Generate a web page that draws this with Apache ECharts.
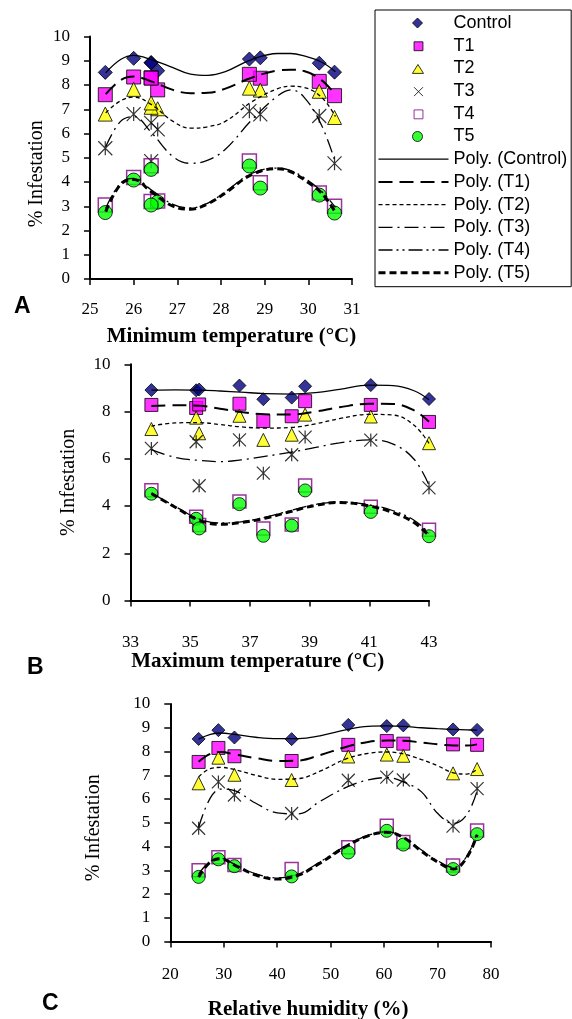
<!DOCTYPE html>
<html>
<head>
<meta charset="utf-8">
<title>% Infestation vs weather</title>
<script src="https://cdn.jsdelivr.net/npm/echarts@6.0.0/dist/echarts.min.js"></script>
<style>
  html, body { margin: 0; padding: 0; background: #fff; }
  #chart { width: 572px; height: 1019px; }
</style>
</head>
<body>
<div id="chart"></div>
<script>
// nine sampling dates: weather at each date
const minTemp = [30.6, 30.25, 26.55, 25.35, 28.9, 28.65, 26.0, 26.4, 26.4];
const maxTemp = [43.0, 35.2, 38.4, 37.45, 41.05, 38.85, 36.65, 35.3, 33.7];
const humidity = [25.3, 29.0, 32.0, 42.7, 53.3, 60.5, 63.6, 72.9, 77.4];

// % infestation per treatment at each date
const control = [8.53, 8.9, 8.59, 8.52, 9.12, 9.07, 9.1, 8.93, 8.91];
const t1 = [7.56, 8.15, 7.8, 7.6, 8.28, 8.44, 8.33, 8.3, 8.28];
const t2 = [6.66, 7.74, 7.02, 6.8, 7.79, 7.87, 7.82, 7.08, 7.26];
const t3 = [4.77, 6.72, 6.17, 5.39, 6.79, 6.92, 6.8, 4.86, 6.44];
const t4 = [3.0, 3.55, 3.22, 3.05, 3.97, 4.87, 4.19, 3.2, 4.67];
const t5 = [2.72, 3.46, 3.17, 2.74, 3.75, 4.66, 4.08, 3.05, 4.52];

// polynomial trend curves (panel A)
const polyXA = [25.36, 25.7, 26.0, 26.4, 26.9, 27.3, 27.7, 28.1, 28.7, 29.3, 29.6, 29.9, 30.3, 30.62];
const polyControlA = [8.5, 9.05, 9.22, 9.05, 8.72, 8.45, 8.4, 8.55, 9.05, 9.3, 9.3, 9.2, 8.95, 8.55];
const polyT1A = [7.62, 8.2, 8.35, 8.15, 7.8, 7.66, 7.68, 7.85, 8.3, 8.6, 8.63, 8.58, 8.2, 7.6];
const polyT2A = [6.85, 7.35, 7.5, 7.2, 6.5, 6.22, 6.28, 6.5, 7.3, 7.85, 7.95, 7.9, 7.5, 6.7];
const polyT3A = [5.45, 6.5, 6.7, 6.05, 5.05, 4.77, 4.9, 5.35, 6.55, 7.55, 7.8, 7.5, 6.35, 4.8];
const polyT4A = [2.92, 3.95, 4.15, 3.68, 3.08, 2.93, 3.13, 3.6, 4.35, 4.57, 4.47, 4.18, 3.62, 2.95];
const polyT5A = [2.78, 3.9, 4.1, 3.6, 3.0, 2.88, 3.1, 3.55, 4.3, 4.55, 4.42, 4.1, 3.55, 2.75];

// panel B
const polyXB = [33.7, 34.5, 35.3, 36.0, 36.7, 37.5, 38.4, 39.2, 40.0, 41.0, 41.8, 42.5, 43.0];
const polyControlB = [8.91, 8.92, 8.91, 8.87, 8.82, 8.76, 8.74, 8.8, 8.94, 9.12, 9.1, 8.88, 8.5];
const polyT1B = [8.23, 8.27, 8.25, 8.12, 7.98, 7.88, 7.87, 8.0, 8.18, 8.33, 8.32, 8.05, 7.57];
const polyT2B = [7.38, 7.52, 7.53, 7.45, 7.35, 7.3, 7.33, 7.48, 7.7, 7.88, 7.85, 7.42, 6.65];
const polyT3B = [6.39, 6.06, 5.93, 5.88, 5.95, 6.1, 6.28, 6.48, 6.67, 6.8, 6.62, 5.98, 4.88];
const polyT4B = [4.55, 3.98, 3.45, 3.28, 3.33, 3.52, 3.82, 4.07, 4.17, 4.05, 3.8, 3.4, 2.85];
const polyT5B = [4.53, 3.95, 3.4, 3.23, 3.3, 3.48, 3.78, 4.03, 4.15, 4.0, 3.72, 3.3, 2.75];

// panel C
const polyXC = [25.3, 27.5, 29.5, 32, 36, 40, 44, 48, 53, 57, 60.5, 63.6, 67, 70, 73, 75.5, 77.4];
const polyControlC = [8.52, 8.72, 8.78, 8.72, 8.6, 8.54, 8.54, 8.66, 8.92, 9.06, 9.08, 9.06, 9.0, 8.96, 8.93, 8.91, 8.9];
const polyT1C = [7.57, 7.9, 7.98, 7.88, 7.72, 7.6, 7.62, 7.85, 8.2, 8.4, 8.46, 8.45, 8.38, 8.3, 8.25, 8.25, 8.3];
const polyT2C = [6.93, 7.28, 7.33, 7.24, 7.0, 6.83, 6.86, 7.17, 7.7, 7.92, 7.98, 7.9, 7.66, 7.4, 7.1, 7.05, 7.25];
const polyT3C = [4.8, 6.05, 6.42, 6.35, 5.82, 5.42, 5.37, 5.9, 6.5, 6.8, 6.9, 6.72, 6.3, 5.4, 4.97, 5.35, 6.35];
const polyT4C = [2.85, 3.38, 3.5, 3.25, 2.85, 2.68, 2.85, 3.35, 4.05, 4.47, 4.62, 4.4, 3.85, 3.4, 3.12, 3.6, 4.58];
const polyT5C = [2.72, 3.35, 3.48, 3.22, 2.8, 2.63, 2.8, 3.3, 4.02, 4.45, 4.6, 4.38, 3.8, 3.35, 3.05, 3.55, 4.5];

const treatmentNames = ['Control', 'T1', 'T2', 'T3', 'T4', 'T5'];
const treatmentValues = [control, t1, t2, t3, t4, t5];

const serif = 'Liberation Serif, Times New Roman, serif';
const sans = 'Liberation Sans, Arial, sans-serif';

const markerStyles = [
  { symbol: 'diamond', itemStyle: { color: '#000080', borderColor: '#000', borderWidth: 1 } },
  { symbol: 'rect', itemStyle: { color: '#ff00ff', borderColor: '#000', borderWidth: 1 } },
  { symbol: 'triangle', itemStyle: { color: '#ffff00', borderColor: '#000', borderWidth: 1 } },
  { symbol: 'path://M0,0L10,10M10,0L0,10M5,0L5,10', itemStyle: { color: 'rgba(0,0,0,0)', borderColor: '#000', borderWidth: 1.2 } },
  { symbol: 'rect', itemStyle: { color: 'rgba(0,0,0,0)', borderColor: '#800080', borderWidth: 1.5 } },
  { symbol: 'circle', itemStyle: { color: '#00ff00', borderColor: '#000', borderWidth: 1 } }
];

// legend icons: same shapes, with a leading move-to so they sit right of centre in the 70px slot
const legendIcons = [
  'path://M-8,0M0,5L5,0L10,5L5,10Z',
  'path://M-8,0M1,1L9,1L9,9L1,9Z',
  'path://M-8,0M5,1L10,9L0,9Z',
  'path://M-8,0M1,1L9,9M9,1L1,9',
  'path://M-8,0M1,1L9,1L9,9L1,9Z',
  'path://M-8,0M0,5A5,5,0,1,1,10,5A5,5,0,1,1,0,5Z'
];

const trendStyles = [
  { width: 1.3, type: 'solid' },
  { width: 2, type: [14, 7] },
  { width: 1.3, type: [4, 3] },
  { width: 1.3, type: [14, 5, 2, 5] },
  { width: 1.3, type: [14, 4, 2, 4, 2, 4] },
  { width: 3, type: [7, 4] }
];

const buildPanel = (idx, xs, polyX, polys, size) => {
  const out = []
  treatmentValues.forEach((vals, k) => {
    out.push({
      name: treatmentNames[k],
      type: 'scatter',
      xAxisIndex: idx,
      yAxisIndex: idx,
      symbol: markerStyles[k].symbol,
      symbolSize: size,
      itemStyle: markerStyles[k].itemStyle,
      data: xs.map((x, i) => [x, vals[i]])
    })
  })
  polys.forEach((ys, k) => {
    out.push({
      name: `Poly. (${treatmentNames[k]})`,
      type: 'line',
      xAxisIndex: idx,
      yAxisIndex: idx,
      smooth: 0.4,
      symbol: 'none',
      itemStyle: { color: '#000' },
      lineStyle: { color: '#000', width: trendStyles[k].width, type: trendStyles[k].type },
      data: polyX.map((x, i) => [x, ys[i]])
    })
  })
  return out
}

const series = [
  ...buildPanel(0, minTemp, polyXA, [polyControlA, polyT1A, polyT2A, polyT3A, polyT4A, polyT5A], 14),
  ...buildPanel(1, maxTemp, polyXB, [polyControlB, polyT1B, polyT2B, polyT3B, polyT4B, polyT5B], 13),
  ...buildPanel(2, humidity, polyXC, [polyControlC, polyT1C, polyT2C, polyT3C, polyT4C, polyT5C], 13)
];

const tickFont = { color: '#000', fontFamily: serif, fontSize: 17 };

const makeX = (idx, min, max, interval, name, labelMargin, nameGap, pad) => ({
  type: 'value',
  gridIndex: idx,
  min, max, interval,
  name,
  nameLocation: 'middle',
  nameGap,
  nameMoveOverlap: false,
  nameTextStyle: { color: '#000', fontFamily: serif, fontSize: 21, fontWeight: 'bold', padding: pad },
  axisLine: { show: true, onZero: false, lineStyle: { color: '#000', width: 2 } },
  axisTick: { show: true, inside: false, length: 6, lineStyle: { color: '#000', width: 1.5 } },
  axisLabel: { ...tickFont, margin: labelMargin },
  splitLine: { show: false }
});

const makeY = (idx, interval, nameGap, pad) => ({
  type: 'value',
  gridIndex: idx,
  min: 0, max: 10, interval,
  name: '% Infestation',
  nameLocation: 'middle',
  nameGap,
  nameMoveOverlap: false,
  nameTextStyle: { color: '#000', fontFamily: serif, fontSize: 20, padding: pad },
  axisLine: { show: true, lineStyle: { color: '#000', width: 2 } },
  axisTick: { show: true, inside: false, length: 6, lineStyle: { color: '#000', width: 1.5 } },
  axisLabel: { ...tickFont, margin: 20 },
  splitLine: { show: false }
});

const letterStyle = { color: '#000', fontFamily: sans, fontSize: 23, fontWeight: 'bold' };

const chart = echarts.init(document.getElementById('chart'), null, { renderer: 'canvas' });

chart.setOption({
  backgroundColor: '#fff',
  animation: false,
  title: [
    { text: 'A', left: 14, top: 295, padding: 0, textStyle: letterStyle },
    { text: 'B', left: 27, top: 656, padding: 0, textStyle: letterStyle },
    { text: 'C', left: 42, top: 992, padding: 0, textStyle: letterStyle }
  ],
  legend: {
    orient: 'vertical',
    left: 375,
    top: 10,
    padding: [4, 4, 5, 2],
    itemWidth: 70,
    itemHeight: 10,
    itemGap: 4.7,
    symbolKeepAspect: true,
    selectedMode: false,
    borderColor: '#000',
    borderWidth: 1,
    borderRadius: 0,
    itemStyle: { borderWidth: 1 },
    lineStyle: { width: 'inherit' },
    textStyle: { color: '#000', fontFamily: sans, fontSize: 18, lineHeight: 18 },
    data: [
      ...treatmentNames.map((n, k) => ({ name: n, icon: legendIcons[k] })),
      ...treatmentNames.map((n) => ({ name: `Poly. (${n})`, itemStyle: { opacity: 0 } }))
    ]
  },
  grid: [
    { left: 90, top: 36.5, width: 262, height: 242.5, outerBoundsMode: 'none' },
    { left: 130.5, top: 364.3, width: 298.5, height: 236.2, outerBoundsMode: 'none' },
    { left: 170.3, top: 704, width: 320.7, height: 237.5, outerBoundsMode: 'none' }
  ],
  xAxis: [
    makeX(0, 25, 31, 1, 'Minimum temperature (°C)', 22, 47, [0, 0, 0, 21]),
    makeX(1, 33, 43, 2, 'Maximum temperature (°C)', 34, 51, [0, 44, 0, 0]),
    makeX(2, 20, 80, 10, 'Relative humidity (%)', 25, 58, [0, 45, 0, 0])
  ],
  yAxis: [
    makeY(0, 1, 43, [0, 32, 0, 0]),
    makeY(1, 2, 52, 0),
    makeY(2, 1, 67, [0, 10, 0, 0])
  ],
  series
});
</script>
</body>
</html>
